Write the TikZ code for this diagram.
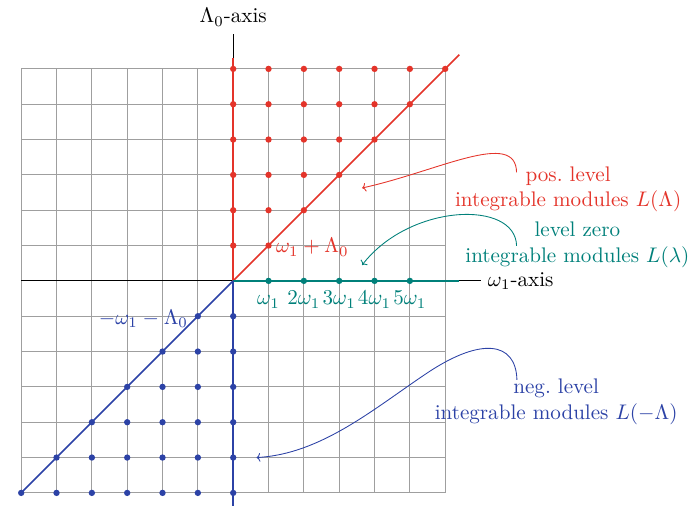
\documentclass[tikz,border=0pt]{standalone}
\usetikzlibrary{arrows.meta}
\definecolor{posc}{RGB}{228,52,42}
\definecolor{zeroc}{RGB}{0,128,122}
\definecolor{negc}{RGB}{44,66,166}
\begin{document}
\begin{tikzpicture}[x=1cm,y=1cm,
  every node/.style={scale=1.7, transform shape},
  gridline/.style={draw=gray!75, line width=0.7pt},
  axisline/.style={draw=black, line width=0.8pt},
  colline/.style={line width=1.3pt},
  dotc/.style={radius=0.09},
  annot/.style={align=center, inner sep=0pt},
  callout/.style={line width=0.7pt, -{To[length=3pt,width=7pt]}}
]
\useasboundingbox (-6.6,-6.35) rectangle (12.9,7.95);

% grid
\draw[gridline] (-6,-6) grid (6,6);

% axes
\coordinate (o) at (0,0);
\coordinate (ytop) at (0,7);
\coordinate (ybot) at (0,-6.4);
\coordinate (xleft) at (-6,0);
\coordinate (xright) at (7,0);
\draw[axisline] (ybot) -- (ytop);
\draw[axisline] (xleft) -- (xright);
\node[anchor=south] (ylab) at (ytop) {$\Lambda_0$-axis};
\node[anchor=west] (xlab) at (xright) {$\omega_1$-axis};

% coloured lines
\coordinate (rtop) at (0,6.3);
\coordinate (rdiag) at (6.4,6.4);
\coordinate (tend) at (6.4,0);
\coordinate (bbot) at (0,-6.4);
\coordinate (bdiag) at (-6,-6);
\draw[colline, posc] (o) -- (rtop);
\draw[colline, posc] (o) -- (rdiag);
\draw[colline, zeroc] (o) -- (tend);
\draw[colline, negc] (o) -- (bbot);
\draw[colline, negc] (o) -- (bdiag);

% dots
\foreach \y in {1,...,6}{
  \foreach \x in {0,...,\y}{
    \fill[posc] (\x,\y) circle[dotc];
    \fill[negc] (-\x,-\y) circle[dotc];
  }
}
\foreach \x in {1,...,5}{
  \fill[zeroc] (\x,0) circle[dotc];
}

% point labels
\node[posc, anchor=west, inner sep=0pt] (pl) at (1.2,0.95) {$\omega_1+\Lambda_0$};
\node[negc, anchor=east, inner sep=0pt] (nl) at (-1.27,-1.08) {$-\omega_1-\Lambda_0$};
\node[zeroc, anchor=base] (w1) at (1,-0.68) {$\omega_1$};
\node[zeroc, anchor=base] (w2) at (2,-0.68) {$2\omega_1$};
\node[zeroc, anchor=base] (w3) at (3,-0.68) {$3\omega_1$};
\node[zeroc, anchor=base] (w4) at (4,-0.68) {$4\omega_1$};
\node[zeroc, anchor=base] (w5) at (5,-0.68) {$5\omega_1$};

% annotations
\node[annot, posc] (pos) at (9.48,2.60) {pos.\ level\\integrable modules $L(\Lambda)$};
\node[annot, zeroc] (zero) at (9.74,1.02) {level zero\\integrable modules $L(\lambda)$};
\node[annot, negc] (neg) at (9.14,-3.42) {neg.\ level\\integrable modules $L(-\Lambda)$};

\coordinate (ps) at (8.02,3.07);
\coordinate (pe) at (3.65,2.63);
\coordinate (zs) at (8.02,0.99);
\coordinate (ze) at (3.65,0.45);
\coordinate (ns) at (8.03,-2.80);
\coordinate (nm) at (5.5,-2.6);
\coordinate (ne) at (0.66,-5.0);

\draw[callout, posc] (ps) .. controls (8.0,4.3) and (5.8,3.1) .. (pe);
\draw[callout, zeroc] (zs) .. controls (8.0,2.3) and (5.0,2.2) .. (ze);
\draw[callout, negc] (ns) .. controls (8.0,-1.7) and (7.0,-1.6) .. (nm)
   .. controls (4.0,-3.6) and (2.5,-4.9) .. (ne);
\end{tikzpicture}
\end{document}
